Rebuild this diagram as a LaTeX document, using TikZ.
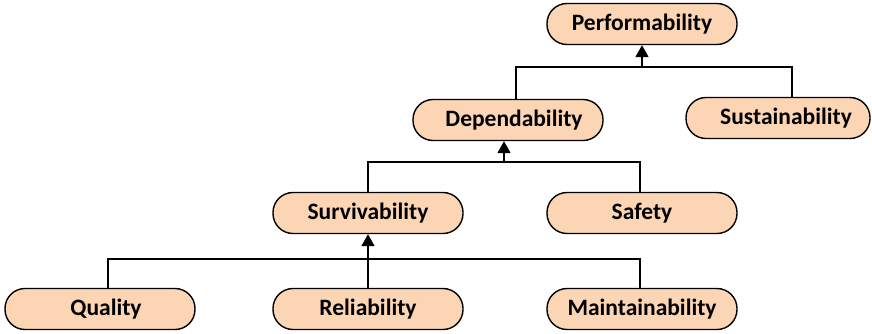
\documentclass[tikz,border=0pt]{standalone}
\usepackage{fontspec}
\setmainfont{Carlito}
\usetikzlibrary{arrows.meta}
\definecolor{boxfill}{RGB}{252,213,181}
\tikzset{
  attr/.style={draw=black, line width=1.4pt, fill=boxfill, rounded corners=20pt,
    minimum width=190pt, minimum height=41pt, inner sep=0pt,
    font=\fontsize{23.5}{26}\selectfont\bfseries},
  link/.style={draw=black, line width=1.7pt},
  up/.style={link, -{Triangle[length=12pt,width=13pt]}}
}
\begin{document}
\begin{tikzpicture}[x=1pt,y=-1pt]
\useasboundingbox (0,0) rectangle (872,333);
% attribute nodes
\node[attr] (perf) at (642,24) {Performability};
\node[attr, minimum width=184pt] (sust) at (778,118) {\hspace{16pt}Sustainability};
\node[attr] (dep) at (508,120) {\hspace{12pt}Dependability};
\node[attr] (surv) at (368,213) {Survivability};
\node[attr] (safe) at (642,213) {Safety\hspace{12pt}};
\node[attr] (qual) at (100,309) {\hspace{12pt}Quality};
\node[attr] (rel) at (368,309) {Reliability};
\node[attr] (maint) at (642,309) {Maintainability\hspace{4pt}};
% junction points
\coordinate (j1) at (642,67);
\coordinate (j2) at (504,162);
\coordinate (j3) at (368,259);
% top level
\draw[link] (dep.north -| 516,0) |- (j1) -| (sust.north -| 792,0);
\draw[up] (j1) -- (perf.south);
% middle level
\draw[link] (surv.north) |- (j2) -| (safe.north -| 640,0);
\draw[up] (j2) -- (dep.south -| j2);
% bottom level
\draw[link] (qual.north -| 108,0) |- (j3) -| (maint.north -| 640,0);
\draw[up] (rel.north) -- (surv.south);
\end{tikzpicture}
\end{document}
